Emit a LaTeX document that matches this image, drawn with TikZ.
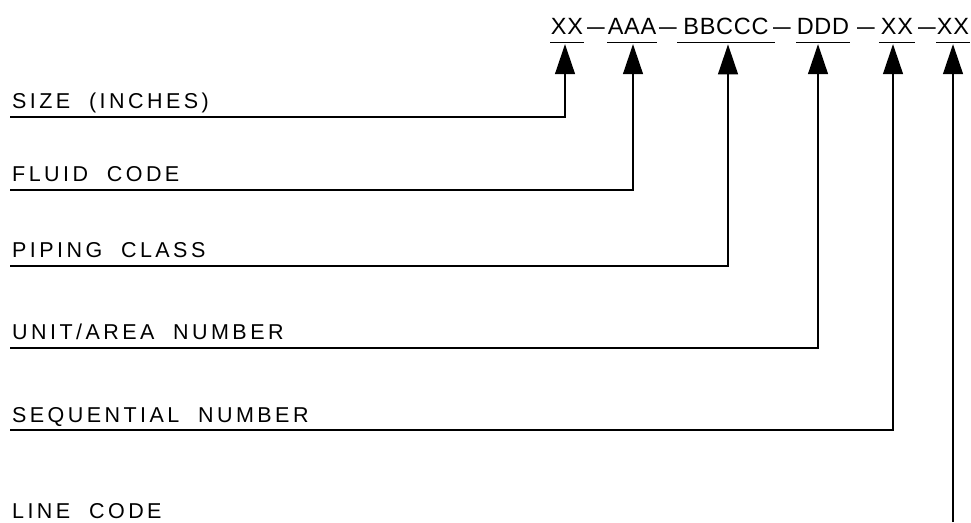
\documentclass[tikz,border=0pt]{standalone}
\usepackage{fontspec}
\usetikzlibrary{arrows.meta}
\newfontfamily\cadfont{Liberation Sans}[LetterSpace=16]
\newfontfamily\codefont{Liberation Sans}[LetterSpace=3]
\tikzset{
  lbl/.style={anchor=base west, inner sep=0pt, font=\cadfont\fontsize{21.5}{21.5}\selectfont},
  code/.style={anchor=base, inner ysep=0pt, inner xsep=0.5pt, font=\codefont\fontsize{23.5}{23.5}\selectfont},
  dashnode/.style={anchor=base, inner sep=0pt, font=\codefont\fontsize{23.5}{23.5}\selectfont},
  conn/.style={line width=1.3pt, -{Triangle[length=30pt,width=20pt]}},
  uline/.style={line width=1.3pt},
}
\begin{document}
\begin{tikzpicture}[x=1pt,y=-1pt]
\useasboundingbox (0,0) rectangle (971,522);
% header code parts
\node[code] (c1) at (567,34) {XX};
\node[dashnode] (h1) at (596,34) {\scalebox{1.35}[1]{–}};
\node[code] (c2) at (632,34) {AAA};
\node[dashnode] (h2) at (668,34) {\scalebox{1.35}[1]{–}};
\node[code, inner xsep=6pt] (c3) at (726,34) {BBCCC};
\node[dashnode] (h3) at (782,34) {\scalebox{1.35}[1]{–}};
\node[code] (c4) at (823,34) {DDD};
\node[dashnode] (h4) at (866,34) {\scalebox{1.35}[1]{–}};
\node[code, inner xsep=2pt] (c5) at (897,34) {XX};
\node[dashnode] (h5) at (927,34) {\scalebox{1.35}[1]{–}};
\node[code] (c6) at (953,34) {XX};
\foreach \c in {c1,c2,c3,c4,c5,c6}
  \draw[uline] ([yshift=-8pt]\c.south west) -- ([yshift=-8pt]\c.south east);
% labels
\node[lbl] (l1) at (12,108) {SIZE\ \ (INCHES)};
\node[lbl] (l2) at (12,181) {FLUID\ \ CODE};
\node[lbl] (l3) at (12,257) {PIPING\ \ CLASS};
\node[lbl] (l4) at (12,339) {UNIT/AREA\ \ NUMBER};
\node[lbl] (l5) at (12,422) {SEQUENTIAL\ \ NUMBER};
\node[lbl] (l6) at (12,518) {LINE\ \ CODE};
% line starts
\coordinate (s1) at (10,117);
\coordinate (s2) at (10,190);
\coordinate (s3) at (10,266);
\coordinate (s4) at (10,348);
\coordinate (s5) at (10,430);
\coordinate (s6) at (953,522);
% connectors
\draw[conn] (s1) -| ([xshift=-2pt,yshift=-10pt]c1.south);
\draw[conn] (s2) -| ([xshift=1pt,yshift=-10pt]c2.south);
\draw[conn] (s3) -| ([xshift=2pt,yshift=-10pt]c3.south);
\draw[conn] (s4) -| ([xshift=-5pt,yshift=-10pt]c4.south);
\draw[conn] (s5) -| ([xshift=-4pt,yshift=-10pt]c5.south);
\draw[conn] (s6) -- ([yshift=-10pt]s6 |- c6.south);
\end{tikzpicture}
\end{document}
